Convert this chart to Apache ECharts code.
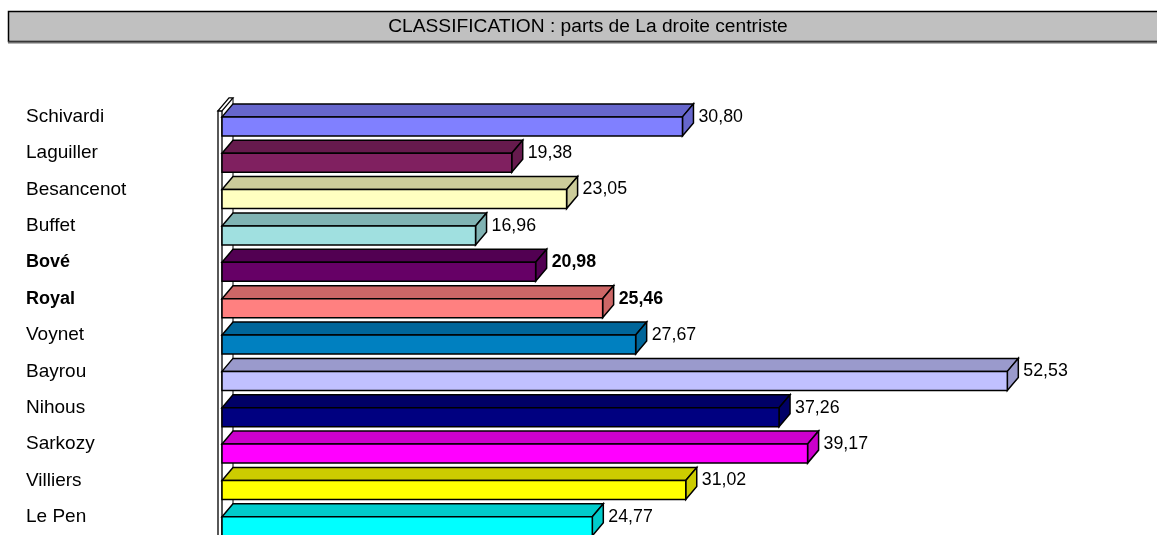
<!DOCTYPE html>
<html>
<head>
<meta charset="utf-8">
<script src="https://cdn.jsdelivr.net/npm/echarts@6/dist/echarts.min.js"></script>
<style>
  html, body { margin: 0; padding: 0; background: #fff; }
  #chart { width: 1157px; height: 535px; }
</style>
</head>
<body>
<div id="chart"></div>
<script>
const candidates = ['Schivardi', 'Laguiller', 'Besancenot', 'Buffet', 'Bové', 'Royal',
  'Voynet', 'Bayrou', 'Nihous', 'Sarkozy', 'Villiers', 'Le Pen'];
const shares = [30.80, 19.38, 23.05, 16.96, 20.98, 25.46, 27.67, 52.53, 37.26, 39.17, 31.02, 24.77];
const titleText = 'CLASSIFICATION : parts de La droite centriste';

// styling
const barColors = ['#8080FF', '#802060', '#FFFFC0', '#A0E0E0', '#660066', '#FF8080',
  '#0080C0', '#C0C0FF', '#000080', '#FF00FF', '#FFFF00', '#00FFFF'];
const boldNames = ['Bové', 'Royal'];
const FONT = '"Liberation Sans", Arial, sans-serif';
const DX = 11, DY = 13, FRONT_H = 19;

function darker(hex, f) {
  const n = parseInt(hex.slice(1), 16);
  const r = Math.round(((n >> 16) & 255) * f);
  const g = Math.round(((n >> 8) & 255) * f);
  const b = Math.round((n & 255) * f);
  return 'rgb(' + r + ',' + g + ',' + b + ')';
}

const chart = echarts.init(document.getElementById('chart'));

const option = {
  animation: false,
  graphic: [
    {
      type: 'rect', z: 10,
      shape: { x: 8.5, y: 11.5, width: 1160, height: 30 },
      style: { fill: '#C0C0C0', stroke: '#000', lineWidth: 1.5 }
    },
    {
      type: 'rect', z: 10,
      shape: { x: 8, y: 41.5, width: 1160, height: 2 },
      style: { fill: '#6e6e6e' }
    },
    {
      type: 'text', z: 11, x: 588, y: 27,
      style: { text: titleText, font: '19.2px ' + FONT, fill: '#000', align: 'center', verticalAlign: 'middle' }
    }
  ],
  grid: { left: 222, top: 98.7, width: 897, height: 439.7 },
  xAxis: { type: 'value', min: 0, max: 60, show: false },
  yAxis: {
    type: 'category',
    data: candidates,
    inverse: true,
    axisLine: { show: false },
    axisTick: { show: false },
    axisLabel: {
      align: 'left',
      margin: 196,
      fontFamily: FONT,
      fontSize: 19,
      color: '#000',
      formatter: function (v) {
        return boldNames.indexOf(v) >= 0 ? '{b|' + v + '}' : v;
      },
      rich: { b: { fontFamily: FONT, fontSize: 18, fontWeight: 'bold', color: '#000' } }
    }
  },
  series: [
    {
      // left wall of the 3D plot
      type: 'custom',
      z: 1,
      data: [[0, 0]],
      renderItem: function (params, api) {
        const cs = params.coordSys;
        const x0 = api.coord([0, 0])[0];
        const yTop = api.coord([0, 0])[1] - 6;
        const yBot = cs.y + cs.height + 5;
        const t = 4;
        return {
          type: 'group',
          children: [
            { type: 'line', shape: { x1: x0 + DX, y1: yTop - DY, x2: x0 + DX, y2: yBot },
              style: { stroke: '#000', lineWidth: 1 } },
            { type: 'rect', shape: { x: x0 - t, y: yTop, width: t, height: yBot - yTop },
              style: { fill: '#fff', stroke: '#000', lineWidth: 1.3 } },
            { type: 'polygon', shape: { points: [[x0 - t, yTop], [x0, yTop], [x0 + DX, yTop - DY], [x0 + DX - t, yTop - DY]] },
              style: { fill: '#fff', stroke: '#000', lineWidth: 1.3 } }
          ]
        };
      }
    },
    {
      type: 'custom',
      z: 2,
      data: shares.map(function (v, i) { return [v, i]; }),
      encode: { x: 0, y: 1 },
      renderItem: function (params, api) {
        const val = api.value(0);
        const idx = api.value(1);
        const p = api.coord([val, idx]);
        const x0 = api.coord([0, idx])[0];
        const x = p[0], y = p[1];
        const col = barColors[idx];
        const dark = darker(col, 0.8);
        const bold = boldNames.indexOf(candidates[idx]) >= 0;
        const edge = { stroke: '#000', lineWidth: 1.5, lineJoin: 'miter' };
        return {
          type: 'group',
          children: [
            { type: 'polygon', shape: { points: [[x0, y], [x, y], [x + DX, y - DY], [x0 + DX, y - DY]] },
              style: Object.assign({ fill: dark }, edge) },
            { type: 'polygon', shape: { points: [[x, y], [x + DX, y - DY], [x + DX, y - DY + FRONT_H], [x, y + FRONT_H]] },
              style: Object.assign({ fill: dark }, edge) },
            { type: 'rect', shape: { x: x0, y: y, width: x - x0, height: FRONT_H },
              style: Object.assign({ fill: col }, edge) },
            { type: 'text', x: x + DX + 5, y: y,
              style: {
                text: val.toFixed(2).replace('.', ','),
                font: (bold ? 'bold ' : '') + '17.8px ' + FONT,
                fill: '#000', verticalAlign: 'middle', align: 'left'
              } }
          ]
        };
      }
    }
  ]
};

chart.setOption(option);
</script>
</body>
</html>
